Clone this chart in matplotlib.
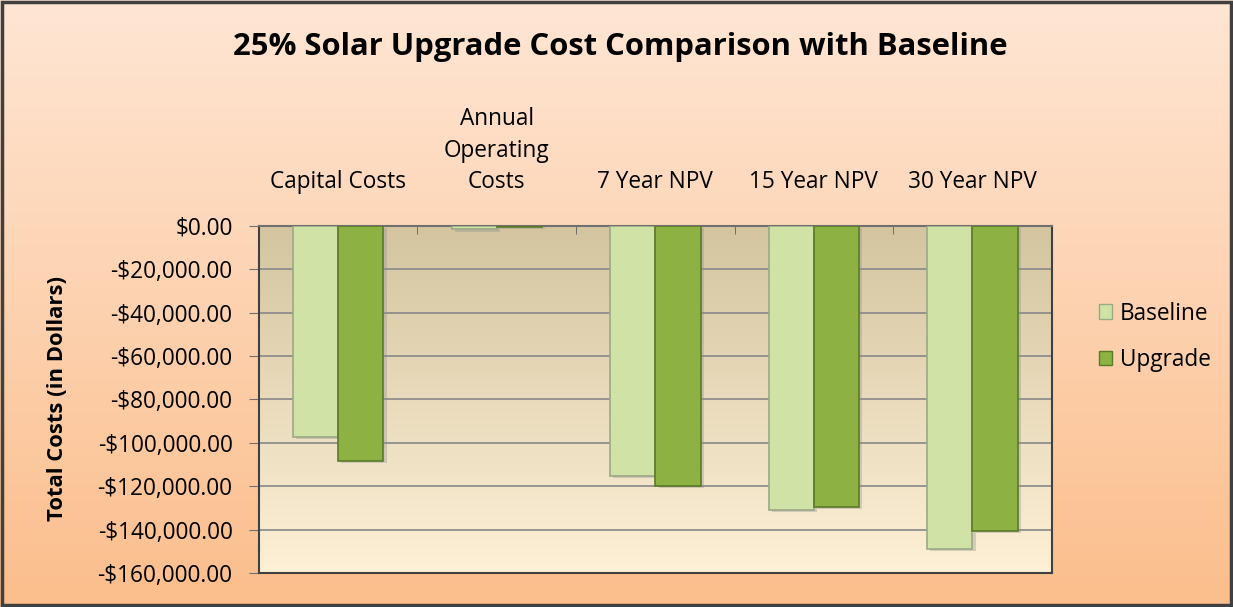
import numpy as np
import matplotlib
matplotlib.use("Agg")
from matplotlib import pyplot as plt
from matplotlib.patches import Patch, Rectangle
from matplotlib.ticker import FuncFormatter, MultipleLocator

categories = ["Capital Costs", "Annual\nOperating\nCosts", "7 Year NPV", "15 Year NPV", "30 Year NPV"]
baseline = [-97200, -1500, -115200, -130900, -148800]
upgrade = [-108300, -400, -119800, -129500, -140500]
series_names = ["Baseline", "Upgrade"]

plt.rcParams["font.family"] = ["Open Sans", "DejaVu Sans"]

fig = plt.figure(figsize=(12.33, 6.07), dpi=100)

# figure background gradient (peach -> orange)
bg = fig.add_axes([0, 0, 1, 1], zorder=-10)
grad = np.linspace(0, 1, 256).reshape(-1, 1)
top_c = np.array([255, 230, 212]) / 255
bot_c = np.array([251, 190, 140]) / 255
img = top_c + (bot_c - top_c) * grad[:, :, None]
bg.imshow(img, aspect="auto", extent=[0, 1, 0, 1], origin="upper")
bg.set_xlim(0, 1)
bg.set_ylim(0, 1)
bg.axis("off")
bg.add_patch(Rectangle((0.0015, 0.003), 0.997, 0.994, fill=False, lw=2.5, ec="#404040",
                       transform=bg.transAxes))

ax = fig.add_axes([0.210, 0.056, 0.643, 0.572])

# plot area gradient (tan -> cream)
p_top = np.array([212, 197, 160]) / 255
p_bot = np.array([253, 240, 214]) / 255
pimg = p_top + (p_bot - p_top) * grad[:, :, None]
ax.imshow(pimg, aspect="auto", extent=[0, 1, 0, 1], origin="upper",
          transform=ax.transAxes, zorder=0)

x = np.arange(len(categories))
w = 0.285
# soft shadows
ax.bar(x - w / 2 + 0.02, baseline, w, color="#909090", alpha=0.35, zorder=2, bottom=-1200)
ax.bar(x + w / 2 + 0.02, upgrade, w, color="#909090", alpha=0.35, zorder=2, bottom=-1200)
ax.bar(x - w / 2, baseline, w, color="#d0e2a6", edgecolor="#9aa986", lw=1.2, zorder=3,
       label=series_names[0])
ax.bar(x + w / 2, upgrade, w, color="#8db243", edgecolor="#5b7a26", lw=1.2, zorder=3,
       label=series_names[1])

ax.set_xlim(-0.5, len(categories) - 0.5)
ax.set_ylim(-160000, 0)
ax.yaxis.set_major_locator(MultipleLocator(20000))
ax.yaxis.set_major_formatter(FuncFormatter(
    lambda v, p: "$0.00" if v == 0 else ("-${:,.2f}".format(-v) if v < 0 else "${:,.2f}".format(v))))
ax.grid(axis="y", color="#888888", lw=1.2, zorder=1)
ax.set_axisbelow(True)

ax.xaxis.tick_top()
ax.set_xticks(x)
ax.set_xticklabels(categories, fontsize=16.3, linespacing=1.4)
ax.tick_params(axis="x", which="major", length=0, pad=23)
ax.set_xticks(np.arange(-0.5, len(categories)), minor=True)
ax.tick_params(axis="x", which="minor", direction="in", length=6, color="#606060")
ax.tick_params(axis="y", labelsize=16.3, length=7, direction="out", color="#707070", pad=12)

for s in ax.spines.values():
    s.set_color("#404040")
    s.set_linewidth(1.5)
ax.spines["top"].set_color("#707070")

fig.text(0.047, 0.344, "Total Costs (in Dollars)", rotation=90, ha="center", va="center",
         fontsize=15.8, fontweight="bold")
fig.text(0.503, 0.922, "25% Solar Upgrade Cost Comparison with Baseline", ha="center", va="center",
         fontsize=22.3, fontweight="bold")

handles = [Patch(fc="#d0e2a6", ec="#9aa986"), Patch(fc="#8db243", ec="#5b7a26")]
fig.legend(handles, series_names, loc="center left", bbox_to_anchor=(0.891, 0.445), frameon=False,
           fontsize=16.3, handlelength=0.6, handleheight=0.6, handletextpad=0.35, labelspacing=1.0,
           borderpad=0, borderaxespad=0)

fig.savefig("out.png", dpi=100)
